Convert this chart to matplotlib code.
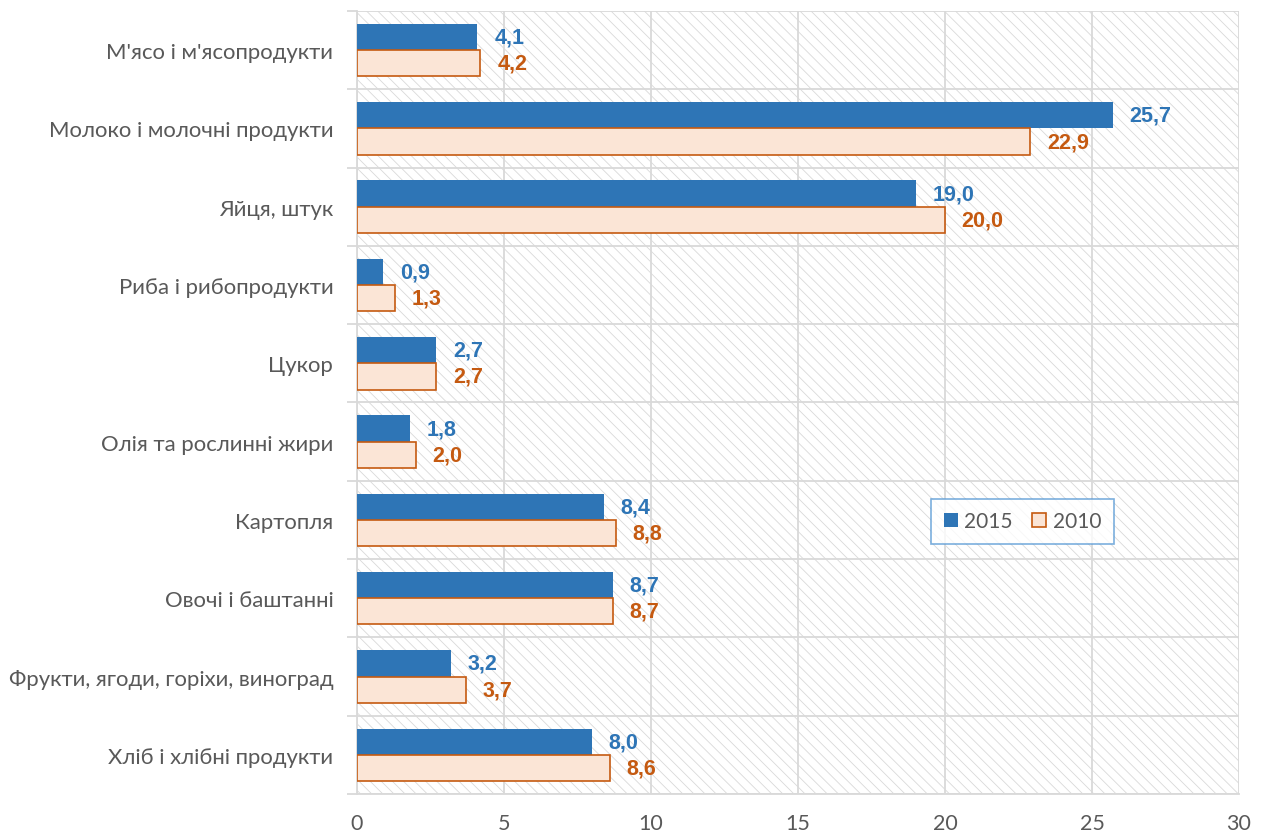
import matplotlib
matplotlib.use("Agg")
import matplotlib.pyplot as plt
from matplotlib.patches import Rectangle
import numpy as np

categories = ["М'ясо і м'ясопродукти", "Молоко і молочні продукти", "Яйця, штук",
              "Риба і рибопродукти", "Цукор", "Олія та рослинні жири", "Картопля",
              "Овочі і баштанні", "Фрукти, ягоди, горіхи, виноград", "Хліб і хлібні продукти"]
v2015 = [4.1, 25.7, 19.0, 0.9, 2.7, 1.8, 8.4, 8.7, 3.2, 8.0]
v2010 = [4.2, 22.9, 20.0, 1.3, 2.7, 2.0, 8.8, 8.7, 3.7, 8.6]
xticks = [0, 5, 10, 15, 20, 25, 30]

plt.rcParams['font.family'] = ['Lato', 'DejaVu Sans']
plt.rcParams['hatch.linewidth'] = 0.6

blue = '#2E75B6'
orange = '#C55A11'
fill10 = '#FBE5D6'
txt = '#595959'
grid = '#D9D9D9'

fig = plt.figure(figsize=(12.7, 8.37), dpi=100)
ax = fig.add_axes([0.281, 0.0502, 0.6946, 0.9355])

n = len(categories)
y = np.arange(n)
h = 0.335
ax.set_ylim(n - 0.5, -0.5)
ax.set_xlim(0, 30)

# hatched background
bg = Rectangle((0, 0), 1, 1, transform=ax.transAxes, facecolor='white',
               edgecolor='#D9D9D9', hatch='\\\\\\', linewidth=0, zorder=0)
ax.add_patch(bg)

ax.barh(y - h / 2, v2015, height=h, color=blue, edgecolor=blue, linewidth=0, zorder=3, label='2015')
ax.barh(y + h / 2, v2010, height=h, color=fill10, edgecolor=orange, linewidth=1.2, zorder=3, label='2010')

lbl_font = ['Liberation Sans', 'DejaVu Sans']
for i in range(n):
    ax.text(v2015[i] + 0.57, y[i] - h / 2, f"{v2015[i]:.1f}".replace('.', ','),
            va='center', ha='left', color=blue, fontsize=15.5, fontweight='bold',
            family=lbl_font, zorder=4)
    ax.text(v2010[i] + 0.57, y[i] + h / 2, f"{v2010[i]:.1f}".replace('.', ','),
            va='center', ha='left', color=orange, fontsize=15.5, fontweight='bold',
            family=lbl_font, zorder=4)

# grid
for xv in xticks:
    ax.axvline(xv, color=grid, linewidth=1.3, zorder=1)
for b in np.arange(-0.5, n + 0.5, 1):
    ax.axhline(b, color=grid, linewidth=1.3, zorder=1)

ax.set_xticks(xticks)
ax.set_xticklabels([str(t) for t in xticks], color=txt, fontsize=15.5)
ax.set_yticks(y)
ax.set_yticklabels(categories, color=txt, fontsize=15.9)
ax.tick_params(axis='y', length=0, pad=17)
ax.tick_params(axis='x', length=0, pad=14)
ax.set_yticks(np.arange(-0.5, n + 0.5, 1), minor=True)
ax.tick_params(axis='y', which='minor', length=7, color=grid, width=1.3)

for s in ['top', 'right']:
    ax.spines[s].set_visible(False)
ax.spines['left'].set_color(grid)
ax.spines['left'].set_linewidth(1.3)
ax.spines['bottom'].set_color(grid)
ax.spines['bottom'].set_linewidth(1.3)

leg = ax.legend(loc='upper left', bbox_to_anchor=(0.651, 0.377), ncol=2, frameon=True,
                fontsize=15, handlelength=0.7, handleheight=0.7, columnspacing=0.9,
                handletextpad=0.3, borderpad=0.6, borderaxespad=0, fancybox=False,
                labelcolor=txt)
leg.get_frame().set_edgecolor('#5B9BD5')
leg.get_frame().set_linewidth(1.2)
leg.set_zorder(5)

fig.savefig('out.png', dpi=100)
